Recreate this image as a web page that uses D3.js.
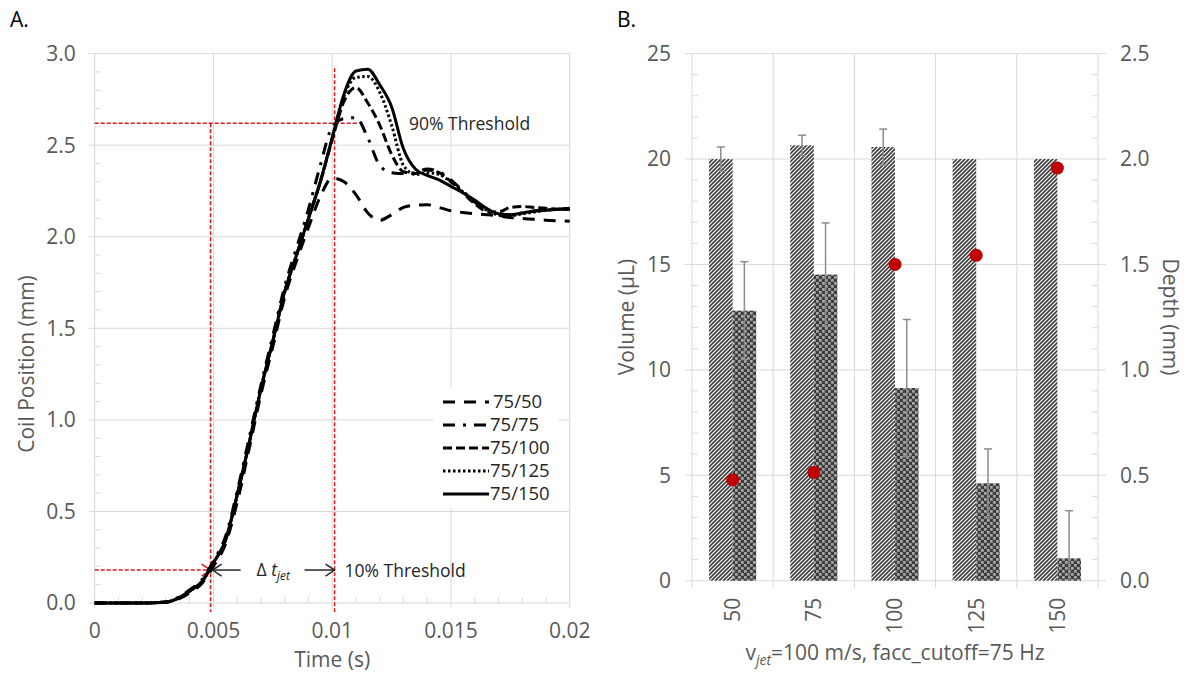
<!DOCTYPE html>
<html>
<head>
<meta charset="utf-8">
<script src="https://cdn.jsdelivr.net/npm/d3@7"></script>
<style>
  body { margin: 0; background: #fff; }
  svg { font-family: "Open Sans", sans-serif; }
  .grid-line { stroke: #d9d9d9; stroke-width: 1; }
  .tick-label { fill: #595959; font-size: 21px; }
  .axis-title { fill: #595959; font-size: 21px; }
  .panel-label { fill: #000; font-size: 21px; }
  .note { fill: #262626; font-size: 17.5px; }
  .legend-label { fill: #262626; font-size: 18.5px; }
  .coil-line { fill: none; stroke: #000; stroke-width: 3; }
  .red-guide { fill: none; stroke: #e0161b; stroke-width: 1.5; stroke-dasharray: 4 2; }
  .err-bar { stroke: #8c8c8c; stroke-width: 1.5; }
</style>
</head>
<body>
<div id="wrapper"></div>
<script>
// ---- Panel A data: coil position (mm) over time (s)
const timeSeconds = [0, 0.001, 0.002, 0.003, 0.0035, 0.004, 0.0045, 0.005, 0.0055, 0.006,
  0.0065, 0.007, 0.0075, 0.008, 0.0085, 0.009, 0.0095, 0.01, 0.0105, 0.011, 0.0115, 0.012,
  0.0125, 0.013, 0.0135, 0.014, 0.0145, 0.015, 0.0155, 0.016, 0.0165, 0.017, 0.0175, 0.018,
  0.0185, 0.019, 0.0195, 0.02];
const coil75_50 = [0, 0, 0, 0.004, 0.02, 0.055, 0.105, 0.2, 0.32, 0.55, 0.84, 1.14, 1.40, 1.67,
  1.87, 2.05, 2.22, 2.32, 2.30, 2.23, 2.13, 2.09, 2.12, 2.16, 2.172, 2.175, 2.16, 2.142, 2.132,
  2.125, 2.12, 2.114, 2.105, 2.10, 2.095, 2.09, 2.087, 2.085];
const coil75_75 = [0, 0, 0, 0.006, 0.03, 0.072, 0.125, 0.23, 0.36, 0.61, 0.90, 1.19, 1.46, 1.73,
  1.94, 2.15, 2.39, 2.60, 2.645, 2.65, 2.54, 2.39, 2.35, 2.345, 2.35, 2.37, 2.355, 2.31, 2.25,
  2.19, 2.14, 2.115, 2.12, 2.13, 2.14, 2.145, 2.15, 2.15];
const coil75_100 = [0, 0, 0, 0.005, 0.025, 0.065, 0.115, 0.22, 0.34, 0.59, 0.87, 1.17, 1.43, 1.70,
  1.90, 2.10, 2.30, 2.53, 2.74, 2.815, 2.73, 2.61, 2.45, 2.355, 2.345, 2.365, 2.35, 2.30, 2.24,
  2.18, 2.14, 2.135, 2.16, 2.165, 2.16, 2.155, 2.15, 2.15];
const coil75_125 = [0, 0, 0, 0.005, 0.025, 0.065, 0.115, 0.22, 0.34, 0.59, 0.87, 1.17, 1.43, 1.70,
  1.90, 2.10, 2.30, 2.54, 2.77, 2.87, 2.875, 2.79, 2.61, 2.39, 2.34, 2.35, 2.34, 2.30, 2.245,
  2.19, 2.145, 2.12, 2.115, 2.125, 2.135, 2.145, 2.15, 2.15];
const coil75_150 = [0, 0, 0, 0.005, 0.025, 0.065, 0.115, 0.22, 0.34, 0.59, 0.87, 1.17, 1.43, 1.70,
  1.90, 2.10, 2.30, 2.54, 2.78, 2.905, 2.915, 2.83, 2.71, 2.48, 2.37, 2.335, 2.31, 2.275, 2.24,
  2.20, 2.155, 2.125, 2.12, 2.13, 2.14, 2.145, 2.15, 2.155];
const seriesNames = ["75/50", "75/75", "75/100", "75/125", "75/150"];
const seriesValues = [coil75_50, coil75_75, coil75_100, coil75_125, coil75_150];

const timeTicks = [0, 0.005, 0.01, 0.015, 0.02];
const timeTickLabels = ["0", "0.005", "0.01", "0.015", "0.02"];
const coilTicks = [0, 0.5, 1, 1.5, 2, 2.5, 3];

// threshold guides
const threshold90 = 2.62;
const threshold10 = 0.18;
const time10 = 0.00488;
const time90 = 0.0101;

// ---- Panel B data
const cutoffCategories = ["50", "75", "100", "125", "150"];
const volumeHatched = [20.0, 20.65, 20.57, 20.0, 20.0];
const volumeHatchedErr = [0.57, 0.48, 0.85, 0, 0];
const volumeDotted = [12.81, 14.52, 9.14, 4.62, 1.06];
const volumeDottedErr = [2.32, 2.45, 3.25, 1.63, 2.26];
const depthMm = [0.478, 0.514, 1.50, 1.543, 1.957];
const volumeTicks = [0, 5, 10, 15, 20, 25];
const depthTicks = [0, 0.5, 1, 1.5, 2, 2.5];

function drawChart() {
  const dimensions = { width: 1188, height: 673 };

  const svg = d3.select("#wrapper")
    .append("svg")
      .attr("width", dimensions.width)
      .attr("height", dimensions.height);

  // fill patterns of the two bar series
  const defs = svg.append("defs");
  const hatch = defs.append("pattern")
      .attr("id", "hatch")
      .attr("patternUnits", "userSpaceOnUse")
      .attr("width", 4)
      .attr("height", 4);
  hatch.append("rect").attr("width", 4).attr("height", 4).attr("fill", "#fff");
  hatch.append("path")
      .attr("d", "M-1,1 l2,-2 M0,4 l4,-4 M3,5 l2,-2")
      .attr("stroke", "#3d3d3d")
      .attr("stroke-width", 1.6);

  const spheres = defs.append("pattern")
      .attr("id", "spheres")
      .attr("patternUnits", "userSpaceOnUse")
      .attr("width", 6)
      .attr("height", 6);
  spheres.append("rect").attr("width", 6).attr("height", 6).attr("fill", "#3a3a3a");
  [[1.5, 1.5], [4.5, 4.5]].forEach(([cx, cy]) => {
    spheres.append("circle").attr("cx", cx).attr("cy", cy).attr("r", 1.7).attr("fill", "#8e8e8e");
    spheres.append("circle").attr("cx", cx - 0.5).attr("cy", cy - 0.5).attr("r", 0.7).attr("fill", "#d6d6d6");
  });

  // =================== Panel A ===================
  const a = svg.append("g");
  const x = d3.scaleLinear().domain([0, 0.02]).range([94.7, 569.7]);
  const y = d3.scaleLinear().domain([0, 3]).range([603, 53.6]);

  a.append("text").attr("class", "panel-label").attr("x", 10).attr("y", 27).text("A.");

  // grid
  a.selectAll(".hgrid").data(coilTicks).join("line")
      .attr("class", "grid-line")
      .attr("x1", x(0) - 6).attr("x2", x(0.02))
      .attr("y1", d => y(d)).attr("y2", d => y(d));
  a.selectAll(".vgrid").data(timeTicks).join("line")
      .attr("class", "grid-line")
      .attr("x1", d => x(d)).attr("x2", d => x(d))
      .attr("y1", y(3)).attr("y2", y(0) + 5);
  // minor ticks
  const minorY = d3.range(0, 3.0001, 0.1).filter(v => Math.abs(v * 2 - Math.round(v * 2)) > 1e-6);
  a.selectAll(".minor-y").data(minorY).join("line")
      .attr("class", "grid-line")
      .attr("x1", x(0)).attr("x2", x(0) + 6)
      .attr("y1", d => y(d)).attr("y2", d => y(d));
  const minorX = d3.range(0.001, 0.02, 0.001).filter((v, i) => (i + 1) % 5 !== 0);
  a.selectAll(".minor-x").data(minorX).join("line")
      .attr("class", "grid-line")
      .attr("x1", d => x(d)).attr("x2", d => x(d))
      .attr("y1", y(0)).attr("y2", y(0) - 6);

  // tick labels
  a.selectAll(".ylab").data(coilTicks).join("text")
      .attr("class", "tick-label")
      .attr("x", x(0) - 19).attr("y", d => y(d))
      .attr("dy", "0.35em").attr("text-anchor", "end")
      .text(d => d.toFixed(1));
  a.selectAll(".xlab").data(timeTicks).join("text")
      .attr("class", "tick-label")
      .attr("x", d => x(d)).attr("y", y(0) + 28)
      .attr("dy", "0.35em").attr("text-anchor", "middle")
      .text((d, i) => timeTickLabels[i]);

  a.append("text").attr("class", "axis-title")
      .attr("text-anchor", "middle")
      .attr("transform", `translate(${x(0.01)},${y(0) + 57}) `)
      .attr("dy", "0.35em")
      .text("Time (s)");
  a.append("text").attr("class", "axis-title")
      .attr("text-anchor", "middle")
      .attr("transform", `translate(27,364) rotate(-90)`)
      .attr("dy", "0.35em")
      .text("Coil Position (mm)");

  // red guide lines
  const guides = a.append("g");
  guides.append("path").attr("class", "red-guide")
      .attr("d", `M${x(0)},${y(threshold90)}H${x(0.0111)}`);
  guides.append("path").attr("class", "red-guide")
      .attr("d", `M${x(time10)},${y(threshold90)}V${y(0) + 9}`);
  guides.append("path").attr("class", "red-guide")
      .attr("d", `M${x(time90)},${y(2.92)}V${y(0) + 9}`);
  guides.append("path").attr("class", "red-guide")
      .attr("d", `M${x(0)},${y(threshold10)}H${x(time10)}`);
  guides.append("path")
      .attr("d", `M${x(time10) - 9},${y(threshold10) - 6}L${x(time10)},${y(threshold10)}L${x(time10) - 9},${y(threshold10) + 6}`)
      .attr("fill", "none").attr("stroke", "#e0161b").attr("stroke-width", 1.5);

  // series
  const line = d3.line()
      .x((d, i) => x(timeSeconds[i]))
      .y(d => y(d))
      .curve(d3.curveMonotoneX);
  const dashes = ["12 9", "12 8 3 8", "9 4", "2.5 2.5", null];

  a.selectAll(".coil-line").data(seriesValues).join("path")
      .attr("class", "coil-line")
      .attr("d", line)
      .attr("stroke-dasharray", (d, i) => dashes[i]);

  // delta t annotation
  const ay = y(threshold10);
  const ann = a.append("g").attr("stroke", "#262626").attr("stroke-width", 1.5).attr("fill", "none");
  ann.append("path").attr("d", `M${x(time10) + 30},${ay}H${x(time10) + 2}`);
  ann.append("path").attr("d", `M${x(time10) + 11},${ay - 6}L${x(time10) + 2},${ay}L${x(time10) + 11},${ay + 6}`);
  ann.append("path").attr("d", `M${x(time90) - 30},${ay}H${x(time90)}`);
  ann.append("path").attr("d", `M${x(time90) - 9},${ay - 6}L${x(time90)},${ay}L${x(time90) - 9},${ay + 6}`);

  const dt = a.append("text").attr("class", "note")
      .attr("x", x(time10) + 46).attr("y", ay + 6);
  dt.append("tspan").text("Δ ");
  dt.append("tspan").attr("font-style", "italic").text("t");
  dt.append("tspan").attr("font-style", "italic").attr("font-size", "12px").attr("dy", 4).text("jet");

  a.append("text").attr("class", "note")
      .attr("x", x(time90) + 10).attr("y", ay + 7)
      .text("10% Threshold");
  a.append("text").attr("class", "note")
      .attr("x", 409).attr("y", y(threshold90) + 7)
      .text("90% Threshold");

  // legend
  const legend = a.append("g");
  legend.append("rect")
      .attr("x", 433).attr("y", 388).attr("width", 126).attr("height", 120)
      .attr("fill", "#fff");
  seriesNames.forEach((name, i) => {
    const ly = 402 + i * 23;
    legend.append("line")
        .attr("class", "coil-line")
        .attr("x1", 443).attr("x2", 489)
        .attr("y1", ly).attr("y2", ly)
        .attr("stroke-dasharray", dashes[i]);
    legend.append("text").attr("class", "legend-label")
        .attr("x", 490 + (i === 0 ? 3 : 0)).attr("y", ly).attr("dy", "0.35em")
        .text(name);
  });

  // =================== Panel B ===================
  const b = svg.append("g");
  const xB = d3.scaleBand().domain(cutoffCategories).range([692, 1098]);
  const yB = d3.scaleLinear().domain([0, 25]).range([580.7, 53.6]);
  const yB2 = d3.scaleLinear().domain([0, 2.5]).range([580.7, 53.6]);
  const barW = xB.bandwidth() * 0.29;

  b.append("text").attr("class", "panel-label").attr("x", 617).attr("y", 27).text("B.");

  b.selectAll(".hgrid").data(volumeTicks).join("line")
      .attr("class", "grid-line")
      .attr("x1", xB.range()[0] - 7).attr("x2", xB.range()[1] + 8)
      .attr("y1", d => yB(d)).attr("y2", d => yB(d));
  const bounds = cutoffCategories.map(c => xB(c)).concat([xB.range()[1]]);
  b.selectAll(".vgrid").data(bounds).join("line")
      .attr("class", "grid-line")
      .attr("x1", d => d).attr("x2", d => d)
      .attr("y1", yB(25)).attr("y2", yB(0) + 8);
  const minorB = d3.range(1, 25).filter(v => v % 5 !== 0);
  b.selectAll(".minor-l").data(minorB).join("line")
      .attr("class", "grid-line")
      .attr("x1", xB.range()[0]).attr("x2", xB.range()[0] + 6)
      .attr("y1", d => yB(d)).attr("y2", d => yB(d));
  b.selectAll(".minor-r").data(minorB).join("line")
      .attr("class", "grid-line")
      .attr("x1", xB.range()[1] - 6).attr("x2", xB.range()[1])
      .attr("y1", d => yB(d)).attr("y2", d => yB(d));

  b.selectAll(".ylab").data(volumeTicks).join("text")
      .attr("class", "tick-label")
      .attr("x", xB.range()[0] - 21).attr("y", d => yB(d))
      .attr("dy", "0.35em").attr("text-anchor", "end")
      .text(d => d);
  b.selectAll(".ylab2").data(depthTicks).join("text")
      .attr("class", "tick-label")
      .attr("x", xB.range()[1] + 22).attr("y", d => yB2(d))
      .attr("dy", "0.35em").attr("text-anchor", "start")
      .text(d => d.toFixed(1));
  b.selectAll(".xlab").data(cutoffCategories).join("text")
      .attr("class", "tick-label")
      .attr("transform", d => `translate(${xB(d) + xB.bandwidth() / 2},${yB(0) + 17}) rotate(-90)`)
      .attr("dy", "0.35em").attr("text-anchor", "end")
      .text(d => d);

  b.append("text").attr("class", "axis-title")
      .attr("transform", `translate(627,317) rotate(-90)`)
      .attr("dy", "0.35em").attr("text-anchor", "middle")
      .text("Volume (µL)");
  b.append("text").attr("class", "axis-title")
      .attr("transform", `translate(1170,317) rotate(90)`)
      .attr("dy", "0.35em").attr("text-anchor", "middle")
      .text("Depth (mm)");
  const xt = b.append("text").attr("class", "axis-title")
      .attr("x", (xB.range()[0] + xB.range()[1]) / 2).attr("y", 660)
      .attr("text-anchor", "middle");
  xt.append("tspan").text("v");
  xt.append("tspan").attr("font-style", "italic").attr("font-size", "14px").attr("dy", 5).text("jet");
  xt.append("tspan").attr("dy", -5).text("=100 m/s, facc_cutoff=75 Hz");

  const center = c => xB(c) + xB.bandwidth() / 2;

  b.selectAll(".bar-h").data(volumeHatched).join("rect")
      .attr("x", (d, i) => center(cutoffCategories[i]) - barW)
      .attr("width", barW)
      .attr("y", d => yB(d))
      .attr("height", d => yB(0) - yB(d))
      .attr("fill", "url(#hatch)");
  b.selectAll(".bar-d").data(volumeDotted).join("rect")
      .attr("x", (d, i) => center(cutoffCategories[i]))
      .attr("width", barW)
      .attr("y", d => yB(d))
      .attr("height", d => yB(0) - yB(d))
      .attr("fill", "url(#spheres)");

  function errorBars(values, errs, offset) {
    values.forEach((v, i) => {
      if (!errs[i]) return;
      const cx = center(cutoffCategories[i]) + offset;
      const hi = v + errs[i];
      const lo = Math.max(0, v - errs[i]);
      b.append("line").attr("class", "err-bar")
          .attr("x1", cx).attr("x2", cx).attr("y1", yB(hi)).attr("y2", yB(lo));
      b.append("line").attr("class", "err-bar")
          .attr("x1", cx - 4).attr("x2", cx + 4).attr("y1", yB(hi)).attr("y2", yB(hi));
      if (v - errs[i] > 0) {
        b.append("line").attr("class", "err-bar")
            .attr("x1", cx - 4).attr("x2", cx + 4).attr("y1", yB(lo)).attr("y2", yB(lo));
      }
    });
  }
  errorBars(volumeHatched, volumeHatchedErr, -barW / 2);
  errorBars(volumeDotted, volumeDottedErr, barW / 2);

  b.selectAll(".depth-dot").data(depthMm).join("circle")
      .attr("cx", (d, i) => center(cutoffCategories[i]))
      .attr("cy", d => yB2(d))
      .attr("r", 6.5)
      .attr("fill", "#c00000");
}
drawChart();
</script>
</body>
</html>
